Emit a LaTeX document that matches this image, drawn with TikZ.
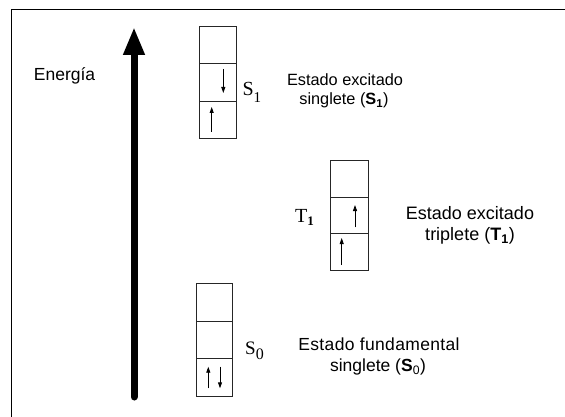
\documentclass[tikz,border=0pt]{standalone}
\usepackage{fontspec}
\setmainfont{Liberation Sans}
\newfontfamily\serifface{Liberation Serif}
\usetikzlibrary{arrows.meta}
\begin{document}
\begin{tikzpicture}[x=1pt,y=-1pt,
  cell/.style={draw=black!85, line width=0.9pt, minimum width=37pt, minimum height=37pt, inner sep=0pt, anchor=north west},
  elec/.style={line width=0.9pt, -{Triangle[length=6pt,width=4pt]}},
  lbl/.style={inner sep=0pt, anchor=base},
  sym/.style={inner sep=0pt, anchor=base west, font=\serifface},
  bigarrow/.style={line width=7pt, line cap=round, -{Triangle[length=28pt,width=20pt]}}]
\useasboundingbox (0,0) rectangle (565,417);
\begin{scope}
\clip (0,0) rectangle (565,417);
\draw[line width=1.3pt] (11.5,9.5) rectangle (640,480);
\end{scope}

% energy axis
\node[inner sep=0pt, anchor=base west, font=\fontsize{17.5}{17.5}\selectfont] (energia) at (33.7,80.7) {Energía};
\coordinate (ebot) at (134,397);
\coordinate (etop) at (134,27);
\draw[bigarrow] (ebot) -- (etop);

% S1 box
\node[cell, minimum width=37pt, minimum height=37.3pt] (s1c3) at (199,26) {};
\node[cell, minimum width=37pt, minimum height=37.3pt] (s1c2) at (199,63.3) {};
\node[cell, minimum width=37pt, minimum height=37.3pt] (s1c1) at (199,100.6) {};
\coordinate (s1da) at (223.3,69);
\coordinate (s1db) at (223.3,93);
\coordinate (s1ua) at (211.7,131.7);
\coordinate (s1ub) at (211.7,107);
\draw[elec] (s1da) -- (s1db);
\draw[elec] (s1ua) -- (s1ub);
\node[sym] (s1lab) at (242.3,96) {\fontsize{20}{20}\selectfont S\raisebox{-7pt}{\fontsize{15}{15}\selectfont 1}};
\node[lbl, font=\fontsize{16.3}{16.3}\selectfont] (s1t1) at (345,85.5) {Estado excitado};
\node[lbl, font=\fontsize{16.3}{16.3}\selectfont] (s1t2) at (344,105) {singlete (\textbf{S}\textsubscript{\textbf{1}})};

% T1 box
\node[cell, minimum width=37.7pt, minimum height=36.7pt] (t1c3) at (330,160) {};
\node[cell, minimum width=37.7pt, minimum height=36.7pt] (t1c2) at (330,196.7) {};
\node[cell, minimum width=37.7pt, minimum height=36.7pt] (t1c1) at (330,233.4) {};
\coordinate (t1ua) at (355,227.3);
\coordinate (t1ub) at (355,205);
\coordinate (t1va) at (341.7,265);
\coordinate (t1vb) at (341.7,238);
\draw[elec] (t1ua) -- (t1ub);
\draw[elec] (t1va) -- (t1vb);
\node[sym] (t1lab) at (295,222.7) {\fontsize{20}{20}\selectfont T\raisebox{-3pt}{\fontsize{13}{13}\selectfont\bfseries 1}};
\node[lbl, font=\fontsize{18}{18}\selectfont] (t1t1) at (470,219.5) {Estado excitado};
\node[lbl, font=\fontsize{18}{18}\selectfont] (t1t2) at (470,240.5) {triplete (\textbf{T}\textsubscript{\textbf{1}})};

% S0 box
\node[cell, minimum width=36.7pt, minimum height=37.5pt] (s0c3) at (195.7,283.3) {};
\node[cell, minimum width=36.7pt, minimum height=37.5pt] (s0c2) at (195.7,320.8) {};
\node[cell, minimum width=36.7pt, minimum height=37.5pt] (s0c1) at (195.7,358.3) {};
\coordinate (s0ua) at (208.3,388.3);
\coordinate (s0ub) at (208.3,366.7);
\coordinate (s0da) at (220,366.7);
\coordinate (s0db) at (220,388.3);
\draw[elec] (s0ua) -- (s0ub);
\draw[elec] (s0da) -- (s0db);
\node[sym] (s0lab) at (245,354) {\fontsize{19}{19}\selectfont S\raisebox{-5pt}{\fontsize{16}{16}\selectfont 0}};
\node[lbl, font=\fontsize{17.5}{17.5}\selectfont\addfontfeature{LetterSpace=2}] (s0t1) at (379,350) {Estado fundamental};
\node[lbl, font=\fontsize{17.5}{17.5}\selectfont] (s0t2) at (378,371.5) {singlete (\textbf{S}\textsubscript{0})};
\end{tikzpicture}
\end{document}
